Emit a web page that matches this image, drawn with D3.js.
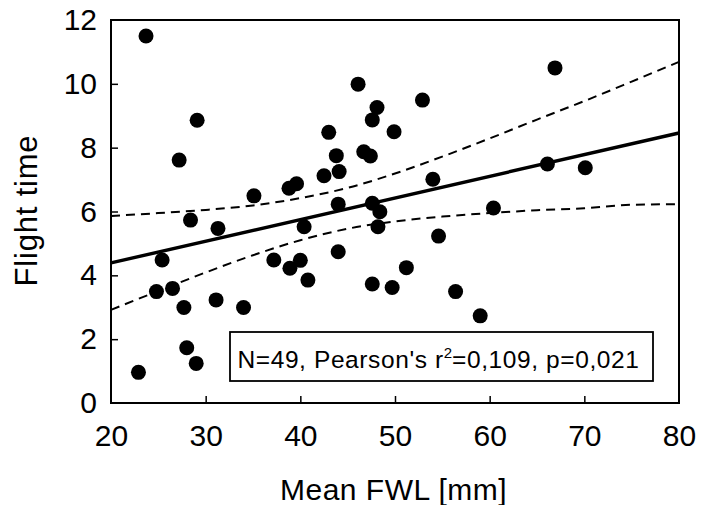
<!DOCTYPE html>
<html>
<head>
<meta charset="utf-8">
<script src="https://cdn.jsdelivr.net/npm/d3@7"></script>
<style>
  html, body { margin: 0; padding: 0; background: #fff; }
  svg { display: block; font-family: "Liberation Sans", Arial, sans-serif; }
</style>
</head>
<body>
<svg id="chart" width="701" height="505"></svg>
<script>
// mean FWL [mm] and flight time (N=49)
const fwl = [23.7, 29.1, 27.2, 35.1, 38.8, 39.6, 28.4, 31.3, 25.4, 24.8,
             26.5, 27.7, 31.1, 34.0, 28.0, 29.0, 22.9, 37.2, 38.9, 40.0,
             40.8, 46.1, 48.1, 47.6, 43.0, 49.9, 52.9, 46.7, 47.4, 43.8,
             44.1, 42.5, 54.0, 44.0, 47.6, 48.4, 60.4, 48.2, 44.0, 54.6,
             51.2, 47.6, 49.7, 56.4, 59.0, 40.4, 66.9, 66.1, 70.1];
const flight = [11.5, 8.86, 7.61, 6.49, 6.73, 6.87, 5.73, 5.47, 4.48, 3.49,
                3.59, 2.99, 3.23, 2.99, 1.73, 1.24, 0.96, 4.48, 4.22, 4.47,
                3.85, 9.99, 9.26, 8.87, 8.48, 8.50, 9.49, 7.87, 7.74, 7.75,
                7.25, 7.12, 7.01, 6.23, 6.26, 5.99, 6.11, 5.52, 4.74, 5.23,
                4.24, 3.73, 3.62, 3.49, 2.73, 5.52, 10.50, 7.49, 7.37];

// regression line and 95% band
const fitX = [20, 80];
const fitY = [4.39, 8.46];
const bandX = [20, 25, 30, 35, 40, 45, 50, 55, 60, 65, 70, 75, 80];
const bandUpper = [5.86, 5.95, 6.05, 6.19, 6.42, 6.74, 7.19, 7.72, 8.29, 8.88, 9.46, 10.07, 10.69];
const bandLower = [2.92, 3.51, 4.09, 4.63, 5.10, 5.46, 5.69, 5.84, 5.95, 6.04, 6.10, 6.21, 6.23];

const xTicks = [20, 30, 40, 50, 60, 70, 80];
const yTicks = [0, 2, 4, 6, 8, 10, 12];

const svg = d3.select("#chart");
const m = { left: 111, right: 679, top: 20, bottom: 403 };

const x = d3.scaleLinear().domain([20, 80]).range([m.left, m.right]);
const y = d3.scaleLinear().domain([0, 12]).range([m.bottom, m.top]);

// ticks (inward) and labels
const xAxis = svg.append("g")
  .attr("transform", `translate(0,${m.bottom})`)
  .call(d3.axisBottom(x).tickValues(xTicks).tickSizeInner(-7).tickSizeOuter(0).tickPadding(22));
const yAxis = svg.append("g")
  .attr("transform", `translate(${m.left},0)`)
  .call(d3.axisLeft(y).tickValues(yTicks).tickSizeInner(-7).tickSizeOuter(0).tickPadding(14));

[xAxis, yAxis].forEach(a => {
  a.select(".domain").remove();
  a.selectAll("line").attr("stroke", "#000").attr("stroke-width", 1.5);
  a.selectAll("text").attr("fill", "#000").attr("font-size", "30px")
    .attr("font-family", "Liberation Sans, Arial, sans-serif");
});
// hide the tick marks that sit on the frame
xAxis.selectAll(".tick").filter(d => d === 20 || d === 80).select("line").remove();
yAxis.selectAll(".tick").filter(d => d === 0 || d === 12).select("line").remove();

// confidence band
const band = (vals) => d3.line()
  .x((d, i) => x(bandX[i]))
  .y(d => y(d))
  .curve(d3.curveMonotoneX)(vals);

svg.append("path").attr("d", band(bandUpper))
  .attr("fill", "none").attr("stroke", "#000").attr("stroke-width", 2)
  .attr("stroke-dasharray", "9,6");
svg.append("path").attr("d", band(bandLower))
  .attr("fill", "none").attr("stroke", "#000").attr("stroke-width", 2)
  .attr("stroke-dasharray", "9,6");

// regression line
svg.append("path")
  .attr("d", d3.line().x((d, i) => x(fitX[i])).y(d => y(d))(fitY))
  .attr("fill", "none").attr("stroke", "#000").attr("stroke-width", 3.4);

// points
svg.append("g").selectAll("circle")
  .data(fwl)
  .join("circle")
  .attr("cx", d => x(d))
  .attr("cy", (d, i) => y(flight[i]))
  .attr("r", 7.5)
  .attr("fill", "#000");

// frame
svg.append("rect")
  .attr("x", m.left).attr("y", m.top)
  .attr("width", m.right - m.left).attr("height", m.bottom - m.top)
  .attr("fill", "none").attr("stroke", "#000").attr("stroke-width", 2);

// stats box
svg.append("rect")
  .attr("x", 230).attr("y", 332).attr("width", 423).attr("height", 49)
  .attr("fill", "#fff").attr("stroke", "#000").attr("stroke-width", 1.8);

const stat = svg.append("text")
  .attr("x", 438.5).attr("y", 368)
  .attr("text-anchor", "middle")
  .attr("font-size", "24.5px")
  .attr("letter-spacing", "0.6px")
  .attr("fill", "#000");
stat.append("tspan").text("N=49, Pearson's r");
stat.append("tspan").attr("dy", -10).attr("font-size", "15px").attr("letter-spacing", "0").text("2");
stat.append("tspan").attr("dy", 10).text("=0,109, p=0,021");

// axis titles
svg.append("text")
  .attr("x", 393.5).attr("y", 500)
  .attr("text-anchor", "middle")
  .attr("font-size", "30px")
  .attr("letter-spacing", "0.5px")
  .text("Mean FWL [mm]");

svg.append("text")
  .attr("transform", "translate(37,210.5) rotate(-90)")
  .attr("text-anchor", "middle")
  .attr("font-size", "31px")
  .attr("letter-spacing", "0.8px")
  .text("Flight time");
</script>
</body>
</html>
